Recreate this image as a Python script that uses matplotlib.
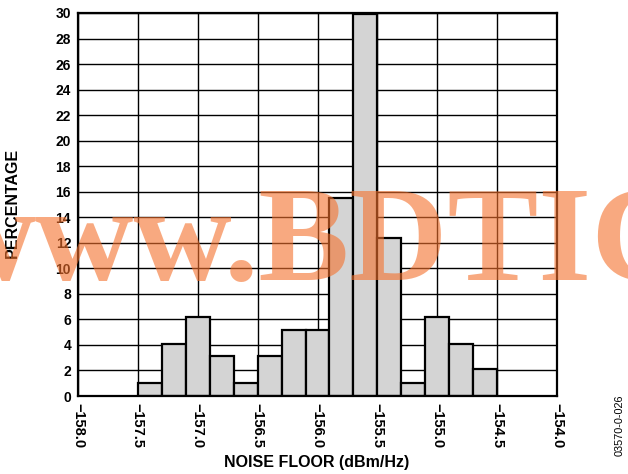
import numpy as np
import matplotlib
matplotlib.use("Agg")
import matplotlib.pyplot as plt

# ── Data: histogram of noise floor (dBm/Hz) ──────────────────────────────────
bin_left = [-157.5, -157.3, -157.1, -156.9, -156.7, -156.5, -156.3, -156.1,
            -155.9, -155.7, -155.5, -155.3, -155.1, -154.9, -154.7]
percent = [1.0, 4.1, 6.2, 3.1, 1.0, 3.1, 5.2, 5.2,
           15.5, 29.9, 12.4, 1.0, 6.2, 4.1, 2.1]
bin_width = 0.2

x_ticks = [-158.0, -157.5, -157.0, -156.5, -156.0, -155.5, -155.0, -154.5, -154.0]
y_ticks = list(range(0, 31, 2))

plt.rcParams['font.family'] = ['Liberation Sans', 'DejaVu Sans']

fig = plt.figure(figsize=(6.28, 4.74), dpi=100)
ax = fig.add_axes([78 / 628, 78 / 474, (557 - 78) / 628, (396 - 13) / 474])

ax.bar(bin_left, percent, width=bin_width, align="edge",
       color="#D4D4D4", edgecolor="black", linewidth=1.6, zorder=3)

ax.set_xlim(-158.0, -154.0)
ax.set_ylim(0, 30)
ax.set_xticks(x_ticks)
ax.set_yticks(y_ticks)
ax.set_xticklabels([f"{v:.1f}".replace("-", "\u2212") for v in x_ticks],
                   rotation=270, fontsize=10.5, fontweight="bold")
ax.set_yticklabels([str(v) for v in y_ticks], fontsize=10, fontweight="bold")
ax.tick_params(axis="both", length=0, pad=5)
ax.grid(True, color="black", linewidth=1.0, zorder=1)
ax.set_axisbelow(True)
for s in ax.spines.values():
    s.set_linewidth(1.6)
    s.set_zorder(4)

ax.set_xlabel("NOISE FLOOR (dBm/Hz)", fontsize=11.5, fontweight="bold")
ax.set_ylabel("PERCENTAGE", fontsize=11.5, fontweight="bold")
ax.xaxis.set_label_coords((317 - 78) / 479, -(462 - 396) / 383)
ax.yaxis.set_label_coords(-(78 - 12) / 479, (396 - 203) / 383)
ax.xaxis.label.set_va("center")
ax.yaxis.label.set_va("center")

fig.text(620 / 628, (474 - 425) / 474, "03570-0-026", rotation=90, fontsize=7.8,
         ha="center", va="center")

# watermark
fig.text(-62 / 628, (474 - 280) / 474, "www.BDTIC", fontsize=98,
         fontweight="bold", family="Liberation Serif", color="#F4712C",
         alpha=0.6, ha="left", va="baseline", zorder=10)

fig.savefig("out.png", dpi=100)
